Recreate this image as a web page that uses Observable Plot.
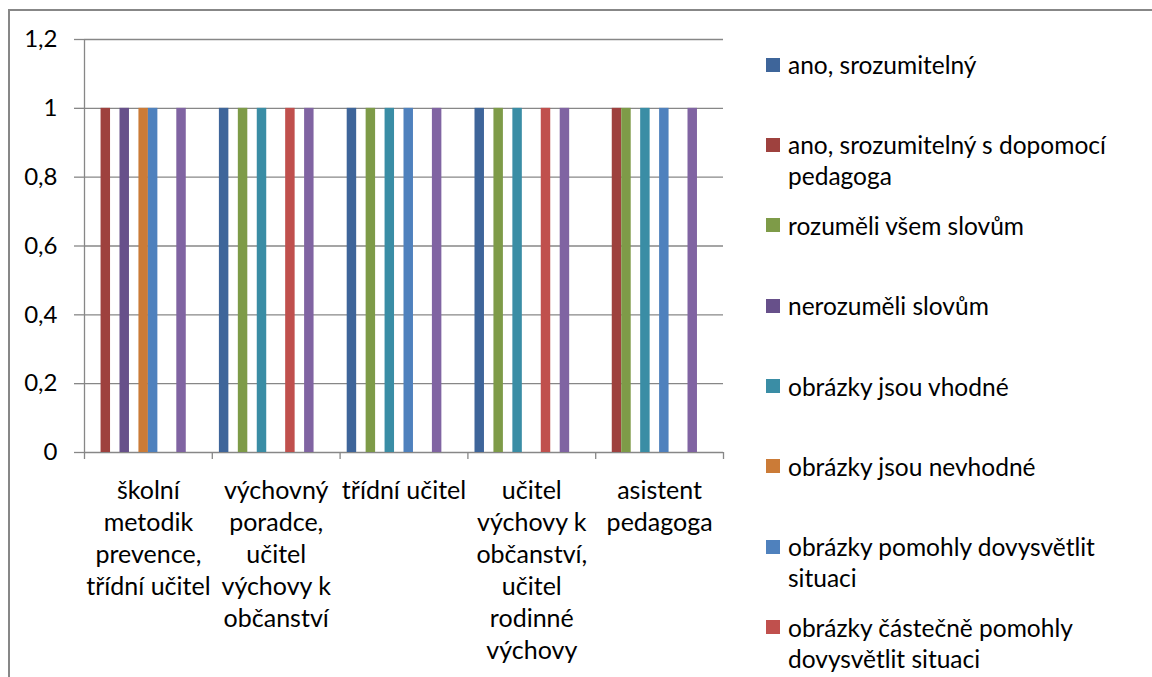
<!DOCTYPE html>
<html>
<head>
<meta charset="utf-8">
<script src="https://cdn.jsdelivr.net/npm/d3@7"></script>
<script src="https://cdn.jsdelivr.net/npm/@observablehq/plot@0.6"></script>
<style>
  html, body { margin: 0; padding: 0; background: #fff; }
  body { width: 1152px; height: 677px; position: relative; overflow: hidden; font-family: Lato, "Open Sans", sans-serif; }
  #frame { position: absolute; left: 8px; top: 9px; width: 1300px; height: 900px; border: 2px solid #878787; box-sizing: border-box; }
  #chart { position: absolute; left: 0; top: 0; }
  #legend { position: absolute; left: 766px; top: 49px; }
  .item { height: 80.4px; position: relative; }
  .sw { position: absolute; left: 0; top: 8.5px; width: 14px; height: 14px; }
  .lb { position: absolute; left: 22px; top: 0; font-size: 24.5px; line-height: 31px; white-space: pre; color: #000; }
</style>
</head>
<body>
<div id="frame"></div>
<div id="chart"></div>
<div id="legend"></div>
<script>
const categories = [
  "školní metodik prevence, třídní učitel",
  "výchovný poradce, učitel výchovy k občanství",
  "třídní učitel",
  "učitel výchovy k občanství, učitel rodinné výchovy",
  "asistent pedagoga"
];
const categoryLabels = [
  "školní\nmetodik\nprevence,\ntřídní učitel",
  "výchovný\nporadce,\nučitel\nvýchovy k\nobčanství",
  "třídní učitel",
  "učitel\nvýchovy k\nobčanství,\nučitel\nrodinné\nvýchovy",
  "asistent\npedagoga"
];
const seriesNames = [
  "ano, srozumitelný",
  "ano, srozumitelný s dopomocí pedagoga",
  "rozuměli všem slovům",
  "nerozuměli slovům",
  "obrázky jsou vhodné",
  "obrázky jsou nevhodné",
  "obrázky pomohly dovysvětlit situaci",
  "obrázky částečně pomohly dovysvětlit situaci",
  "Řada9",
  "Řada10",
  "Řada11",
  "Řada12"
];
const legendLabels = [
  "ano, srozumitelný",
  "ano, srozumitelný s dopomocí\npedagoga",
  "rozuměli všem slovům",
  "nerozuměli slovům",
  "obrázky jsou vhodné",
  "obrázky jsou nevhodné",
  "obrázky pomohly dovysvětlit\nsituaci",
  "obrázky částečně pomohly\ndovysvětlit situaci"
];
const seriesColors = [
  "#3E659A", "#9E413E", "#7E9B48", "#67508A", "#3A8DA5", "#CB7B37",
  "#4F81BD", "#C0504D", "#9BBB59", "#8064A2", "#4BACC6", "#F79646"
];
// one row per category, one column per series (12 series)
const values = [
  [0, 1, 0, 1, 0, 1, 1, 0, 0, 1, 0, 0],
  [1, 0, 1, 0, 1, 0, 0, 1, 0, 1, 0, 0],
  [1, 0, 1, 0, 1, 0, 1, 0, 0, 1, 0, 0],
  [1, 0, 1, 0, 1, 0, 0, 1, 0, 1, 0, 0],
  [0, 1, 1, 0, 1, 0, 1, 0, 0, 1, 0, 0]
];
const yTicks = [0, 0.2, 0.4, 0.6, 0.8, 1, 1.2];
const gapWidth = 1.5; // Excel default gap width 150 %

const slots = seriesNames.length + gapWidth;
const table = categories.flatMap((c, i) =>
  seriesNames.map((s, j) => ({ci: i, sj: j, category: c, series: s, value: values[i][j]}))
).filter(d => d.value > 0);

const grid = "#878787";
const fmt = d => String(d).replace(".", ",");

const chart = Plot.plot({
  width: 1152,
  height: 677,
  marginLeft: 84,
  marginRight: 429,
  marginTop: 39,
  marginBottom: 225,
  style: {fontFamily: "Lato, 'Open Sans', sans-serif", background: "transparent", color: "#000"},
  x: {domain: [0, categories.length]},
  y: {domain: d3.extent(yTicks), label: null},
  color: {domain: seriesNames, range: seriesColors},
  marks: [
    Plot.ruleY(yTicks, {stroke: grid, strokeWidth: 1.3}),
    Plot.ruleX([0], {y1: yTicks[0], y2: yTicks[yTicks.length - 1], stroke: grid, strokeWidth: 1.3}),
    Plot.axisY({ticks: yTicks, tickSize: 10, tickFormat: () => "", color: grid, strokeWidth: 1.3, label: null}),
    Plot.axisY({ticks: yTicks, tickSize: 0, tickPadding: 27, tickFormat: fmt, fontSize: 24, color: "#000", label: null}),
    Plot.axisX({ticks: d3.range(categories.length + 1), tickSize: 7, tickFormat: () => "", color: grid, strokeWidth: 1.3, label: null}),
    Plot.rectY(table, {
      x1: d => d.ci + (gapWidth / 2 + d.sj) / slots,
      x2: d => d.ci + (gapWidth / 2 + d.sj + 1) / slots,
      y: "value",
      fill: "series"
    }),
    Plot.text(categories, {
      x: (d, i) => i + 0.5,
      frameAnchor: "bottom",
      text: (d, i) => categoryLabels[i],
      lineAnchor: "top",
      dy: 24,
      fontSize: 25,
      lineHeight: 32 / 25,
      fill: "#000"
    })
  ]
});
document.getElementById("chart").appendChild(chart);

const legend = d3.select("#legend");
legendLabels.forEach((name, k) => {
  const item = legend.append("div").attr("class", "item");
  item.append("div").attr("class", "sw").style("background", seriesColors[k]);
  item.append("div").attr("class", "lb").text(name);
});
</script>
</body>
</html>
